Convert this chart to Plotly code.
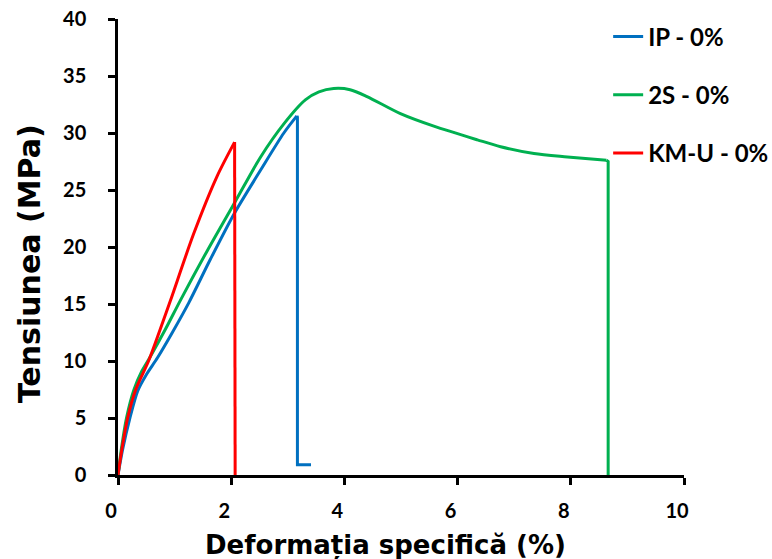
import plotly.graph_objects as go

# Stress-strain curves (strain in %, stress in MPa): loading part up to the peak ...
ip_strain = [0, 0.08, 0.21, 0.35, 0.50, 0.70, 0.96, 1.25, 1.63, 2.05, 2.52, 2.93, 3.16]
ip_stress = [0, 2.2, 5.0, 7.4, 8.8, 10.3, 12.5, 15.1, 18.9, 22.9, 26.75, 30.0, 31.5]
# ... and the fracture drop after it
ip_break_strain = [3.16, 3.17, 3.17, 3.41]
ip_break_stress = [31.5, 31.4, 0.9, 0.9]

s2_strain = [0, 0.06, 0.15, 0.28, 0.42, 0.55, 0.84, 1.10, 1.58, 2.05, 2.52, 2.93, 3.31, 3.55,
             3.81, 4.10, 4.40, 4.99, 5.58, 6.35, 6.76, 7.35, 7.94, 8.63]
s2_stress = [0, 2.3, 5.0, 7.46, 9.1, 10.2, 12.8, 15.3, 19.7, 23.8, 27.9, 30.8, 32.9, 33.6,
             33.9, 33.8, 33.2, 31.7, 30.6, 29.4, 28.8, 28.2, 27.9, 27.6]
s2_break_strain = [8.63, 8.66, 8.66]
s2_break_stress = [27.6, 27.5, 0]

km_strain = [0, 0.06, 0.17, 0.31, 0.54, 0.74, 0.93, 1.34, 1.75, 2.06]
km_stress = [0, 2.0, 5.0, 7.46, 10.0, 12.7, 15.35, 21.2, 26.2, 29.2]
km_break_strain = [2.06, 2.07]
km_break_stress = [29.2, 0]

series = [
    ("IP - 0%", ip_strain, ip_stress, ip_break_strain, ip_break_stress, "#0070C0"),
    ("2S - 0%", s2_strain, s2_stress, s2_break_strain, s2_break_stress, "#00B050"),
    ("KM-U - 0%", km_strain, km_stress, km_break_strain, km_break_stress, "#FF0000"),
]

x_ticks = [0, 2, 4, 6, 8, 10]
y_ticks = [0, 5, 10, 15, 20, 25, 30, 35, 40]

TICK_FONT = "Lato"
TITLE_FONT = "DejaVu Sans"

fig = go.Figure()
for i, (name, xs, ys, bxs, bys, color) in enumerate(series):
    fig.add_trace(go.Scatter(
        x=xs, y=ys, mode="lines", name=name, legendgroup=f"g{i}",
        line=dict(color=color, width=3, shape="spline", smoothing=0.8),
    ))
    fig.add_trace(go.Scatter(
        x=bxs, y=bys, mode="lines", name=name, legendgroup=f"g{i}", showlegend=False,
        line=dict(color=color, width=3),
    ))

axis_common = dict(
    showgrid=False, zeroline=False, showline=True, linecolor="black", linewidth=2.5,
    ticks="outside", ticklen=7, tickwidth=2.5, tickcolor="black",
    tickfont=dict(family=TICK_FONT, size=20, color="black", weight="bold"),
)

fig.update_layout(
    width=772, height=559,
    margin=dict(l=118, r=88, t=19, b=84, autoexpand=False),
    paper_bgcolor="white", plot_bgcolor="white",
    xaxis=dict(range=[0, 10], tickvals=x_ticks, ticklabelstandoff=9, ticklabelshift=-7,
               **axis_common),
    yaxis=dict(range=[0, 40], tickvals=y_ticks, ticklabelstandoff=18, **axis_common),
    showlegend=True,
    legend=dict(
        x=0.866, y=1.01, xanchor="left", yanchor="top",
        traceorder="grouped", tracegroupgap=24,
        font=dict(family=TICK_FONT, size=24, color="black", weight="bold"),
        bgcolor="rgba(0,0,0,0)",
    ),
    annotations=[
        dict(text="Deformația specifică (%)", xref="paper", yref="paper",
             x=0.472, y=-0.1535, xanchor="center", yanchor="middle", showarrow=False,
             font=dict(family=TITLE_FONT, size=26, color="black", weight="bold")),
        dict(text="Tensiunea (MPa)", xref="paper", yref="paper",
             x=-0.155, y=0.463, xanchor="center", yanchor="middle", showarrow=False,
             textangle=-90,
             font=dict(family=TITLE_FONT, size=30, color="black", weight="bold")),
    ],
)

fig.write_html("out.html")
